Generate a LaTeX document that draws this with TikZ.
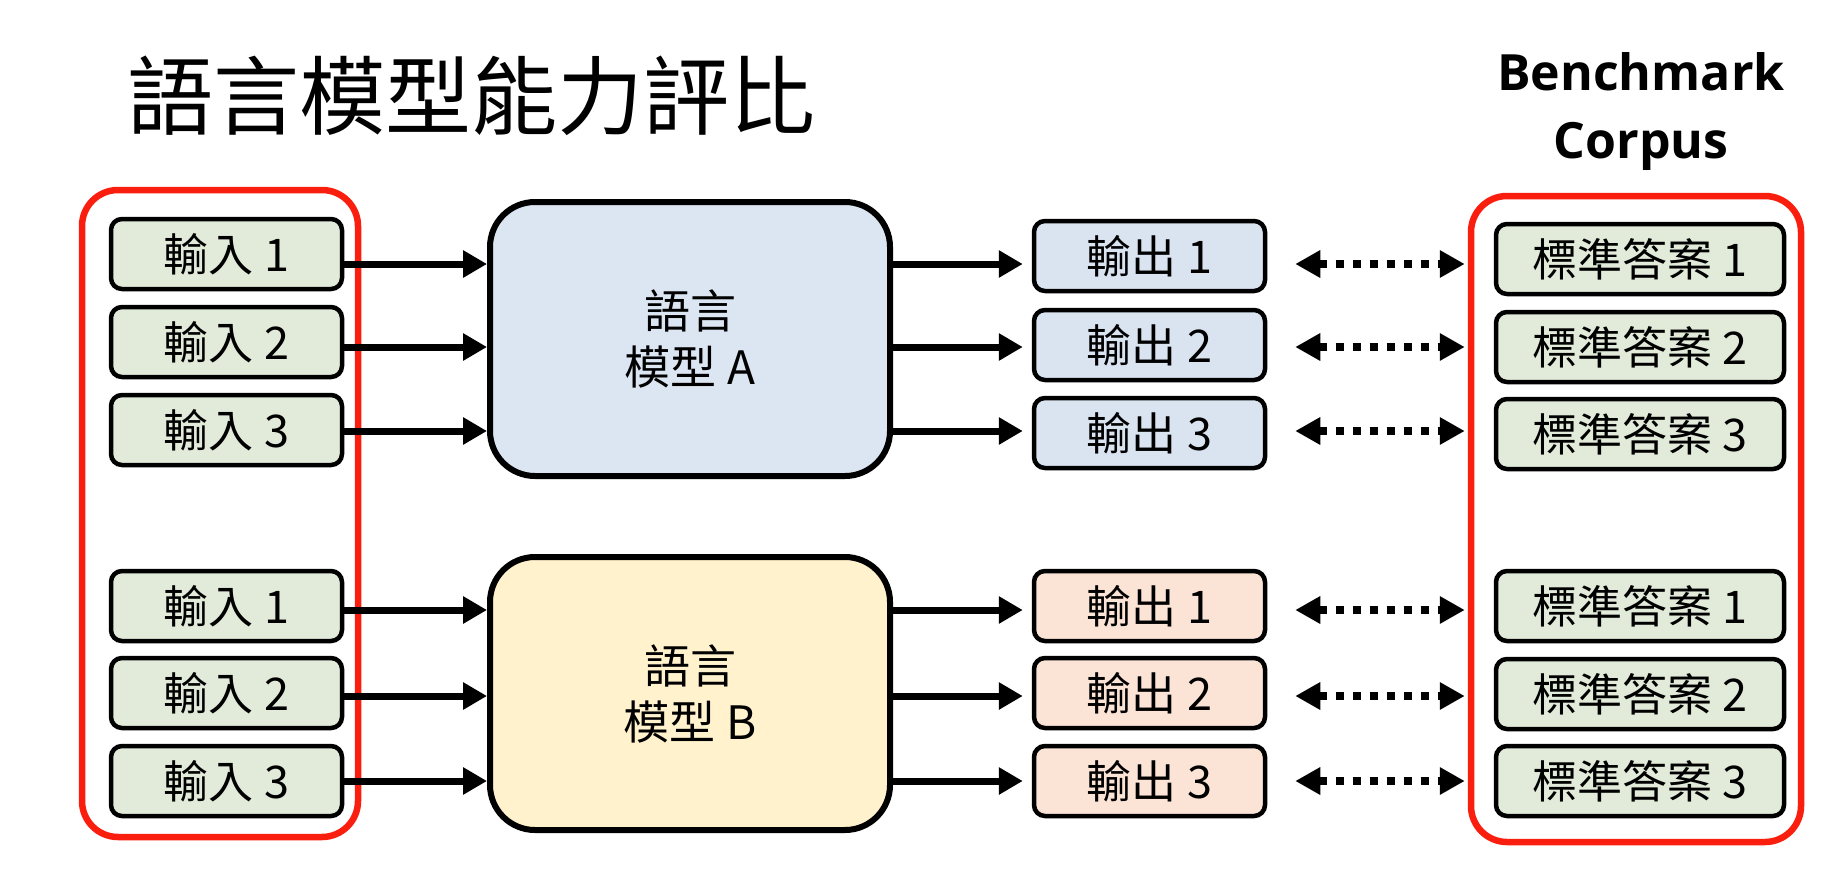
\documentclass[tikz,border=0pt]{standalone}
\usepackage{fontspec}
\setmainfont{Open Sans}
\newfontfamily\cjk{Noto Sans CJK TC}
\usetikzlibrary{arrows.meta,calc}
\definecolor{ingreen}{HTML}{E2EBDA}
\definecolor{outblue}{HTML}{DAE4F1}
\definecolor{modblue}{HTML}{DCE6F2}
\definecolor{modyellow}{HTML}{FFF2CC}
\definecolor{outorange}{HTML}{FBE4D6}
\definecolor{redline}{HTML}{FA1E0E}
\begin{document}
\begin{tikzpicture}[x=1pt,y=-1pt,
  smallbox/.style={draw=black, line width=4.5pt, rounded corners=11pt, minimum width=231pt, minimum height=70pt, inner sep=0pt, font=\cjk\fontsize{45}{54}\selectfont},
  inbox/.style={smallbox, fill=ingreen},
  ansbox/.style={smallbox, fill=ingreen, minimum width=288pt},
  outAbox/.style={smallbox, fill=outblue},
  outBbox/.style={smallbox, fill=outorange},
  model/.style={draw=black, line width=6pt, rounded corners=45pt, minimum width=400pt, minimum height=274pt, inner sep=0pt, align=center, font=\cjk\fontsize{46}{56}\selectfont},
  group/.style={draw=redline, line width=6.5pt, rounded corners=36pt, inner sep=0pt},
  solidarr/.style={line width=7pt, -{Triangle[length=24pt,width=26pt]}},
  dotarr/.style={line width=8pt, dash pattern=on 8pt off 9pt, {Triangle[length=25pt,width=26pt]}-{Triangle[length=25pt,width=26pt]}}
]
\useasboundingbox (0,0) rectangle (1828,870);
\fill[white] (0,0) rectangle (1828,870);

% title
\node[font=\cjk\fontsize{86}{100}\selectfont, inner sep=0pt] (title) at (471,96) {語言模型能力評比};
\node[font=\bfseries\fontsize{50}{68}\selectfont, align=center, inner sep=0pt] (bench) at (1641,112) {Benchmark\\Corpus};

% groups
\node[group, minimum width=276pt, minimum height=647pt] (gin) at (220,513.5) {};
\node[group, minimum width=330pt, minimum height=646pt] (gans) at (1636,519) {};

% level coordinates
\coordinate (LA1) at (0,264);
\coordinate (LA2) at (0,347);
\coordinate (LA3) at (0,431);
\coordinate (LB1) at (0,610);
\coordinate (LB2) at (0,696);
\coordinate (LB3) at (0,781);

% inputs
\node[inbox] (iA1) at (226.5,254) {輸入 1};
\node[inbox] (iA2) at (226.5,342) {輸入 2};
\node[inbox] (iA3) at (226.5,430) {輸入 3};
\node[inbox] (iB1) at (226.5,606) {輸入 1};
\node[inbox] (iB2) at (226.5,693) {輸入 2};
\node[inbox] (iB3) at (226.5,781) {輸入 3};

% models
\node[model, fill=modblue] (mA) at (690,339) {語言\\模型 A};
\node[model, fill=modyellow, minimum height=273pt] (mB) at (690,693.5) {語言\\模型 B};

% outputs
\node[outAbox] (oA1) at (1149.5,256) {輸出 1};
\node[outAbox] (oA2) at (1149.5,345) {輸出 2};
\node[outAbox] (oA3) at (1149.5,433) {輸出 3};
\node[outBbox] (oB1) at (1149.5,606) {輸出 1};
\node[outBbox] (oB2) at (1149.5,693) {輸出 2};
\node[outBbox] (oB3) at (1149.5,781) {輸出 3};

% answers
\node[ansbox] (aA1) at (1640,259) {標準答案 1};
\node[ansbox] (aA2) at (1640,347) {標準答案 2};
\node[ansbox] (aA3) at (1640,434) {標準答案 3};
\node[ansbox] (aB1) at (1640,606) {標準答案 1};
\node[ansbox] (aB2) at (1640,694) {標準答案 2};
\node[ansbox] (aB3) at (1640,781) {標準答案 3};

% arrows
\foreach \i in {1,2,3}{
  \draw[solidarr] (iA\i.east |- LA\i) -- (mA.west |- LA\i);
  \draw[solidarr] (iB\i.east |- LB\i) -- (mB.west |- LB\i);
  \draw[solidarr, shorten >=9pt] (mA.east |- LA\i) -- (oA\i.west |- LA\i);
  \draw[solidarr, shorten >=9pt] (mB.east |- LB\i) -- (oB\i.west |- LB\i);
  \draw[dotarr, shorten <=28pt, shorten >=3pt] (oA\i.east |- LA\i) -- (gans.west |- LA\i);
  \draw[dotarr, shorten <=28pt, shorten >=3pt] (oB\i.east |- LB\i) -- (gans.west |- LB\i);
}
\end{tikzpicture}
\end{document}
